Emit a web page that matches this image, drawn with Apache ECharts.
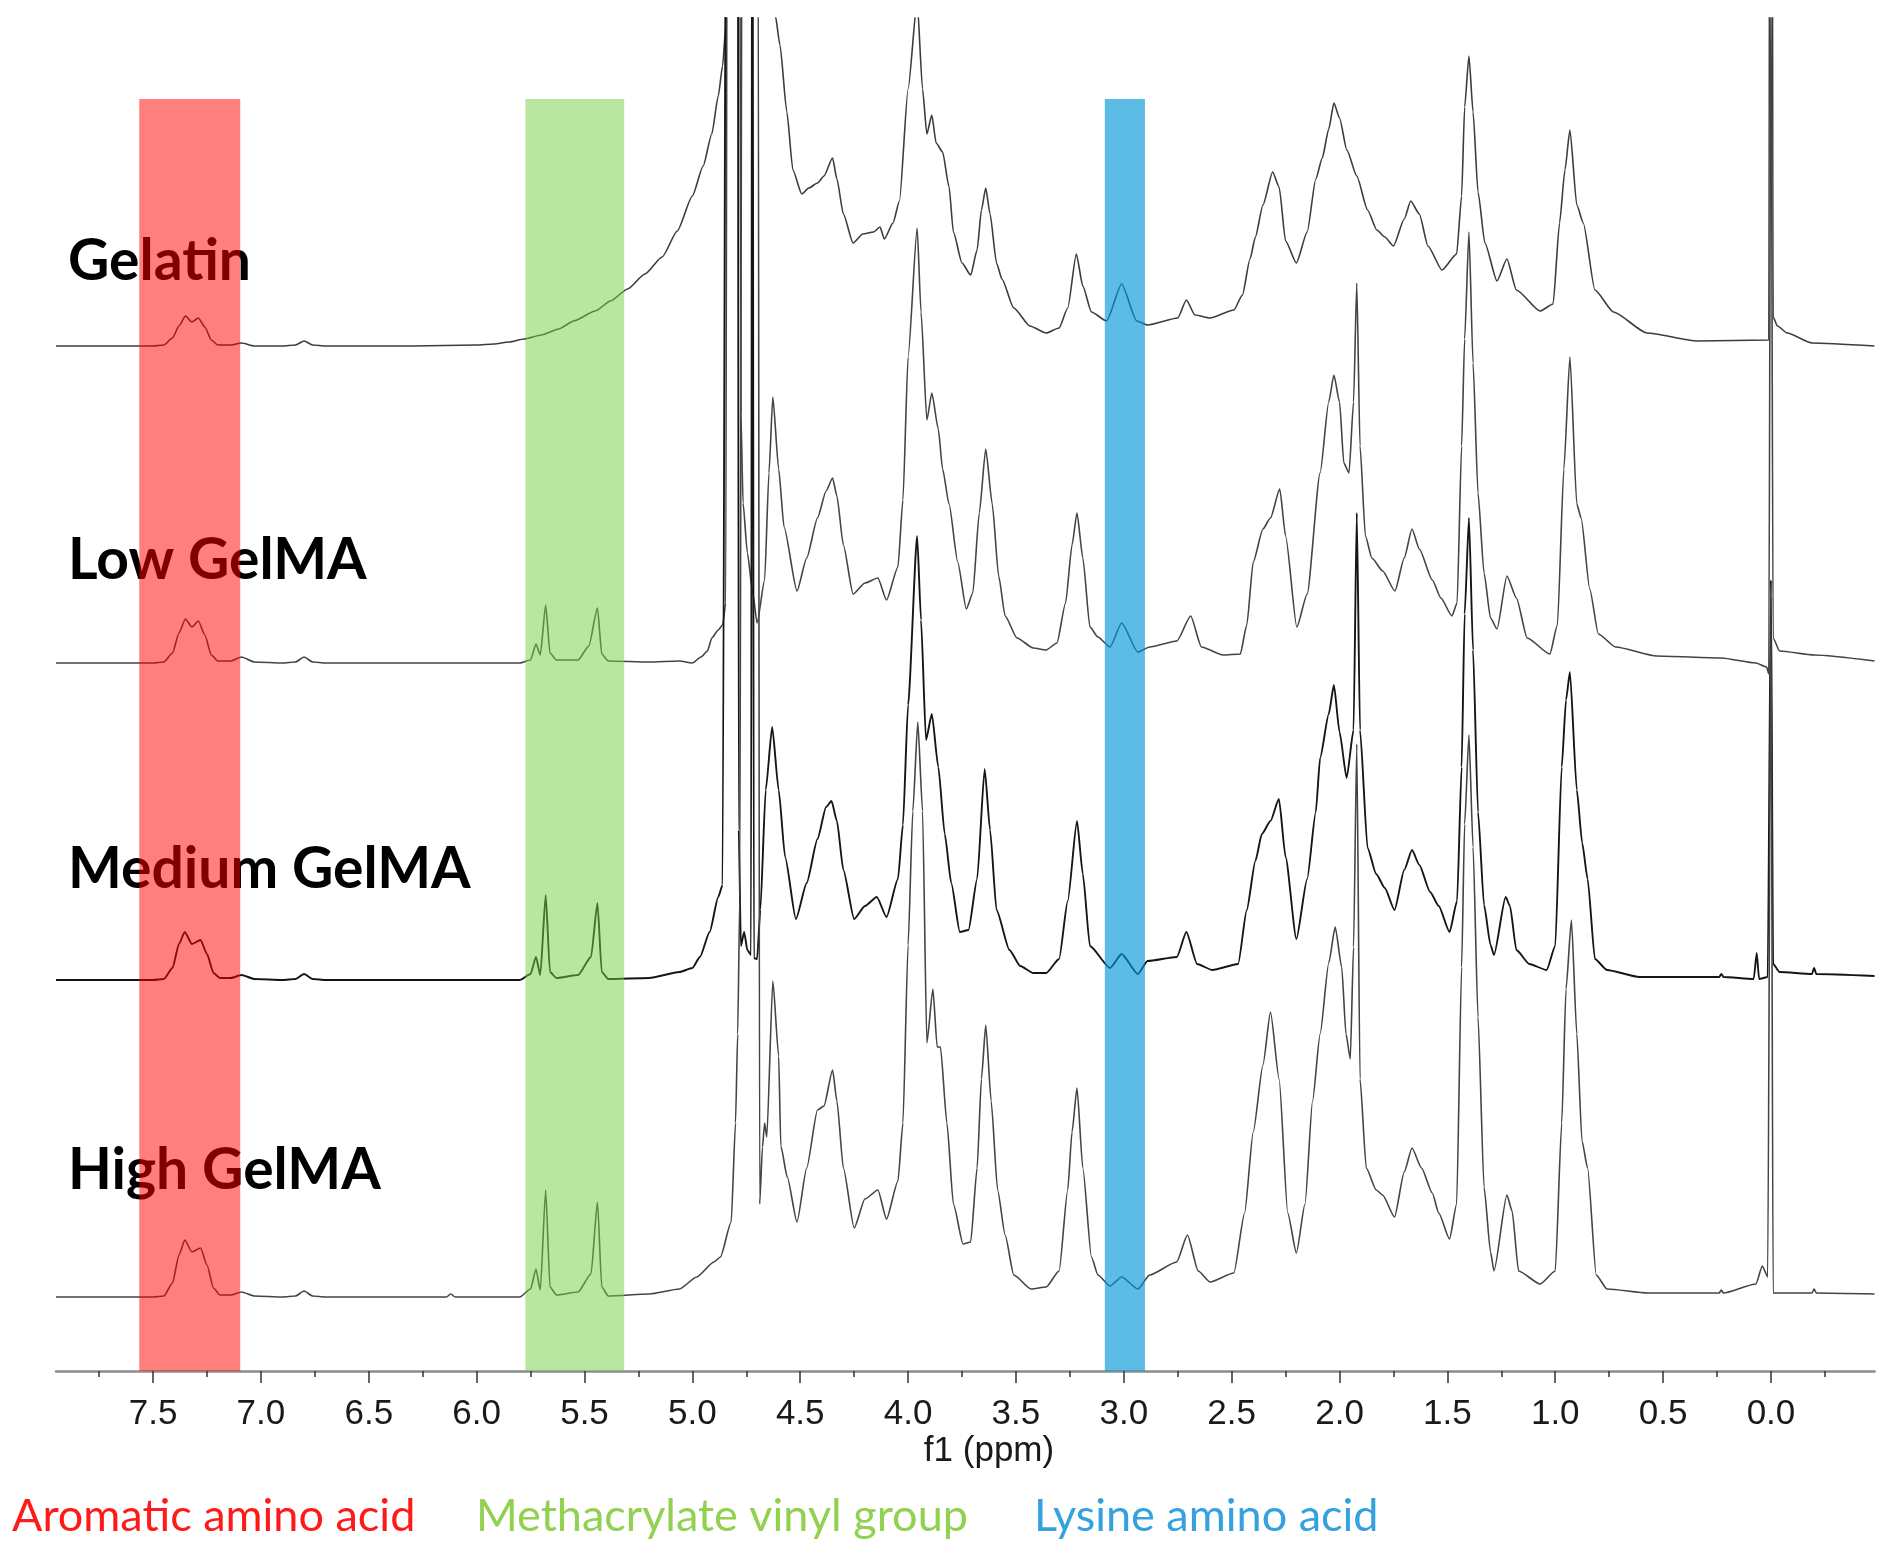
<!DOCTYPE html>
<html>
<head>
<meta charset="utf-8">
<script src="https://cdn.jsdelivr.net/npm/echarts@6/dist/echarts.min.js"></script>
<style>
html,body{margin:0;padding:0;background:#ffffff;}
#chart{width:1890px;height:1551px;}
</style>
</head>
<body>
<div id="chart"></div>
<script>
// ---- data (ppm, intensity above each trace's own baseline) ----
const sampleNames = ['Gelatin', 'Low GelMA', 'Medium GelMA', 'High GelMA'];
const traceOffsets = [951, 634, 317, 0];

const gelatin = [[7.95,0],[7.7,0],[7.5,0],[7.45,1],[7.41,8],[7.38,20],[7.35,30],[7.32,24],[7.29,28],[7.26,19],[7.23,6],[7.2,1],[7.14,1],[7.09,3],[7.03,0],[6.9,0],[6.84,1],[6.8,5],[6.76,1],[6.7,0],[6.3,0],[6.0,1],[5.92,2],[5.85,4],[5.78,7],[5.7,11],[5.62,17],[5.55,25],[5.45,35],[5.38,45],[5.3,57],[5.22,72],[5.14,89],[5.07,115],[5.0,150],[4.95,180],[4.91,212],[4.88,250],[4.86,280],[4.845,320],[4.835,1400],[4.63,1400],[4.615,330],[4.594,301],[4.562,234],[4.534,176],[4.493,152],[4.46,158],[4.42,163],[4.39,170],[4.35,188],[4.33,167],[4.3,132],[4.255,103],[4.21,112],[4.16,114],[4.13,119],[4.11,107],[4.07,123],[4.04,145],[4.0,257],[3.958,345],[3.933,257],[3.913,212],[3.89,231],[3.87,203],[3.84,194],[3.81,159],[3.79,114],[3.75,83],[3.71,71],[3.68,96],[3.66,136],[3.64,158],[3.62,132],[3.59,83],[3.565,67],[3.51,38],[3.435,20],[3.36,13],[3.3,18],[3.26,38],[3.22,92],[3.19,60],[3.15,34],[3.08,25],[3.01,62],[2.94,25],[2.89,21],[2.75,28],[2.71,46],[2.67,31],[2.6,28],[2.49,36],[2.45,51],[2.415,87],[2.39,109],[2.355,141],[2.31,174],[2.28,159],[2.25,105],[2.2,83],[2.15,114],[2.11,167],[2.08,188],[2.05,217],[2.026,243],[2.0,228],[1.966,196],[1.92,170],[1.87,136],[1.827,116],[1.79,109],[1.75,100],[1.7,127],[1.67,145],[1.63,132],[1.59,100],[1.525,76],[1.457,92],[1.434,150],[1.42,239],[1.4,290],[1.381,234],[1.358,154],[1.326,103],[1.27,65],[1.224,87],[1.18,56],[1.07,35],[1.01,42],[0.98,123],[0.955,176],[0.932,216],[0.9,141],[0.87,123],[0.816,56],[0.73,34],[0.575,13],[0.34,5],[0.01,6],[0,1400],[-0.01,29],[-0.03,20],[-0.075,13],[-0.19,3],[-0.48,0]];

const lowGelMA = [[7.95,0],[7.7,0],[7.5,0],[7.45,1],[7.41,10],[7.38,30],[7.35,44],[7.32,36],[7.29,42],[7.26,28],[7.23,8],[7.2,2],[7.14,2],[7.09,6],[7.03,1],[6.9,0],[6.84,1],[6.8,6],[6.76,1],[6.7,0],[6.2,0],[5.8,0],[5.75,3],[5.725,19],[5.705,8],[5.68,58],[5.66,10],[5.63,3],[5.53,3],[5.48,17],[5.44,55],[5.42,9],[5.39,2],[5.2,1],[5.06,2],[5.0,0],[4.96,6],[4.93,12],[4.91,25],[4.88,33],[4.86,38],[4.845,60],[4.835,1400],[4.785,1400],[4.775,250],[4.765,160],[4.745,110],[4.72,70],[4.7,40],[4.665,83],[4.645,190],[4.627,266],[4.6,194],[4.575,136],[4.515,72],[4.47,105],[4.42,145],[4.38,172],[4.35,185],[4.33,167],[4.3,118],[4.255,69],[4.2,80],[4.14,85],[4.1,63],[4.047,96],[4.024,163],[4.0,306],[3.958,435],[3.94,351],[3.913,243],[3.89,270],[3.86,234],[3.84,194],[3.81,159],[3.77,101],[3.73,54],[3.7,70],[3.67,150],[3.64,214],[3.61,159],[3.58,87],[3.55,47],[3.495,25],[3.42,15],[3.36,13],[3.31,20],[3.27,60],[3.24,118],[3.217,150],[3.19,105],[3.157,36],[3.12,26],[3.064,16],[3.01,40],[2.935,11],[2.88,16],[2.754,22],[2.69,47],[2.64,16],[2.54,8],[2.46,9],[2.43,38],[2.4,101],[2.355,134],[2.32,145],[2.277,174],[2.25,127],[2.198,36],[2.15,69],[2.09,190],[2.05,261],[2.026,288],[2.0,261],[1.98,200],[1.956,190],[1.935,261],[1.92,380],[1.905,217],[1.88,127],[1.85,105],[1.8,92],[1.743,72],[1.7,105],[1.664,134],[1.63,114],[1.57,83],[1.53,65],[1.479,47],[1.455,60],[1.434,217],[1.42,324],[1.4,431],[1.381,300],[1.358,170],[1.33,90],[1.3,45],[1.27,34],[1.224,87],[1.18,65],[1.13,25],[1.025,9],[0.99,38],[0.96,194],[0.932,306],[0.9,159],[0.88,145],[0.84,74],[0.8,29],[0.72,16],[0.53,7],[0.23,5],[0.07,0],[0.02,-4],[0.01,-11],[0,700],[-0.01,25],[-0.04,12],[-0.2,8],[-0.48,2]];

const mediumGelMA = [[7.95,0],[7.7,0],[7.5,0],[7.45,1],[7.41,12],[7.38,36],[7.353,48],[7.32,36],[7.28,40],[7.25,26],[7.22,7],[7.19,2],[7.14,2],[7.09,5],[7.03,1],[6.9,0],[6.84,1],[6.8,6],[6.76,1],[6.7,0],[6.2,0],[5.8,0],[5.75,6],[5.725,23],[5.705,5],[5.68,85],[5.66,8],[5.63,2],[5.53,5],[5.47,23],[5.44,77],[5.42,8],[5.39,1],[5.2,2],[5.06,8],[5.0,12],[4.965,23],[4.92,48],[4.88,83],[4.86,95],[4.84,1400],[4.79,1400],[4.785,150],[4.775,34],[4.76,48],[4.745,30],[4.728,25],[4.722,1400],[4.715,22],[4.7,21],[4.685,70],[4.66,190],[4.63,253],[4.6,190],[4.57,123],[4.52,61],[4.47,97],[4.42,141],[4.38,173],[4.355,179],[4.33,159],[4.3,110],[4.25,61],[4.2,74],[4.145,83],[4.1,63],[4.047,101],[4.024,155],[4.0,275],[3.958,444],[3.94,360],[3.917,240],[3.89,266],[3.86,213],[3.83,146],[3.8,97],[3.76,48],[3.72,50],[3.68,101],[3.645,211],[3.62,150],[3.59,70],[3.53,30],[3.48,14],[3.42,7],[3.36,7],[3.3,21],[3.26,79],[3.217,159],[3.19,106],[3.157,34],[3.064,12],[3.01,26],[2.935,6],[2.89,19],[2.754,23],[2.71,48],[2.66,16],[2.59,10],[2.47,16],[2.43,70],[2.39,119],[2.36,146],[2.32,159],[2.281,181],[2.25,123],[2.2,41],[2.15,101],[2.11,168],[2.09,222],[2.05,266],[2.026,295],[2.0,248],[1.967,202],[1.935,250],[1.92,467],[1.905,250],[1.87,132],[1.83,106],[1.79,92],[1.745,70],[1.7,110],[1.664,130],[1.63,115],[1.58,88],[1.54,74],[1.49,48],[1.455,79],[1.434,213],[1.42,366],[1.4,462],[1.381,330],[1.358,168],[1.33,75],[1.3,35],[1.284,25],[1.23,83],[1.21,74],[1.18,30],[1.12,16],[1.04,10],[1.0,34],[0.97,213],[0.95,280],[0.932,308],[0.9,190],[0.875,137],[0.85,101],[0.816,21],[0.76,10],[0.61,3],[0.24,3],[0.23,6],[0.22,3],[0.08,1],[0.066,27],[0.055,1],[0.015,3],[0,400],[-0.01,16],[-0.04,8],[-0.19,6],[-0.2,12],[-0.21,6],[-0.48,4]];

const highGelMA = [[7.95,0],[7.7,0],[7.5,0],[7.45,1],[7.41,14],[7.38,42],[7.353,57],[7.32,45],[7.28,49],[7.25,32],[7.22,9],[7.19,2],[7.14,2],[7.09,5],[7.03,1],[6.9,0],[6.84,1],[6.8,6],[6.76,1],[6.7,0],[6.14,0],[6.12,3],[6.1,0],[5.8,0],[5.75,8],[5.725,28],[5.705,7],[5.68,107],[5.66,10],[5.63,2],[5.53,5],[5.47,23],[5.44,95],[5.42,10],[5.39,1],[5.2,3],[5.06,8],[4.98,20],[4.9,35],[4.87,40],[4.82,75],[4.8,174],[4.79,263],[4.78,400],[4.77,1400],[4.695,1400],[4.688,93],[4.675,150],[4.665,174],[4.655,160],[4.627,316],[4.6,241],[4.59,151],[4.56,120],[4.515,75],[4.47,129],[4.42,187],[4.39,191],[4.35,227],[4.33,196],[4.3,129],[4.25,69],[4.2,98],[4.14,107],[4.1,78],[4.047,116],[4.024,174],[4.0,352],[3.978,486],[3.955,575],[3.933,486],[3.913,254],[3.885,308],[3.865,250],[3.85,250],[3.82,174],[3.79,93],[3.745,53],[3.71,55],[3.68,129],[3.66,218],[3.64,272],[3.615,196],[3.585,107],[3.55,62],[3.51,22],[3.43,8],[3.36,10],[3.3,26],[3.26,107],[3.24,165],[3.217,209],[3.19,129],[3.15,40],[3.12,22],[3.064,11],[3.01,20],[2.935,8],[2.88,22],[2.755,35],[2.705,62],[2.655,26],[2.6,15],[2.49,24],[2.44,84],[2.4,165],[2.355,232],[2.32,285],[2.28,218],[2.24,84],[2.2,44],[2.16,93],[2.125,196],[2.09,263],[2.05,334],[2.02,370],[1.99,330],[1.97,263],[1.95,238],[1.935,350],[1.92,553],[1.905,218],[1.876,129],[1.83,107],[1.8,102],[1.745,80],[1.7,125],[1.664,149],[1.62,129],[1.57,104],[1.54,84],[1.49,58],[1.457,93],[1.434,330],[1.42,473],[1.4,562],[1.381,450],[1.358,280],[1.33,110],[1.3,45],[1.284,26],[1.224,102],[1.2,86],[1.17,26],[1.07,13],[1.0,26],[0.97,174],[0.95,308],[0.925,377],[0.9,263],[0.876,156],[0.85,129],[0.81,22],[0.76,8],[0.57,4],[0.24,4],[0.23,7],[0.22,4],[0.07,13],[0.04,31],[0.015,20],[0,700],[-0.01,4],[-0.19,4],[-0.2,8],[-0.21,4],[-0.48,3]];

const traces = [gelatin, lowGelMA, mediumGelMA, highGelMA];

const majorTickValues = [0,0.5,1,1.5,2,2.5,3,3.5,4,4.5,5,5.5,6,6.5,7,7.5];
const minorTickValues = [-0.25,0.25,0.75,1.25,1.75,2.25,2.75,3.25,3.75,4.25,4.75,5.25,5.75,6.25,6.75,7.25,7.75];

const bandNames = ['Aromatic amino acid', 'Methacrylate vinyl group', 'Lysine amino acid'];
const bandRanges = [[7.564, 7.096], [5.774, 5.316], [3.088, 2.902]];
const axisTitle = 'f1 (ppm)';

// ---- styles / layout ----
const X_MIN = -0.48, X_MAX = 7.95, Y_MIN = -74, Y_MAX = 1279, BAND_TOP = 1198;
const bandFill = ['rgba(255,0,0,0.5)', 'rgba(115,205,65,0.5)', 'rgba(0,150,214,0.64)'];
const bandTextColor = ['#ff1a1a', '#92d050', '#34a2de'];
const bandTextX = [12, 476, 1034];
const sampleLabelY = [262, 561, 870, 1171];
const traceColor = ['#3c3c3c', '#444444', '#151515', '#444444'];
const traceWidth = [1.6, 1.6, 1.9, 1.6];

const chart = echarts.init(document.getElementById('chart'), null, {renderer: 'canvas'});

const series = traces.map((tr, i) => ({
  type: 'line',
  name: sampleNames[i],
  data: tr.map(p => [p[0], p[1] + traceOffsets[i]]),
  showSymbol: false,
  symbol: 'none',
  smooth: 0.2,
  smoothMonotone: 'x',
  clip: true,
  silent: true,
  z: 2,
  lineStyle: {color: traceColor[i], width: traceWidth[i]}
}));

series.push({
  type: 'line',
  name: 'bands',
  data: [],
  silent: true,
  z: 10,
  markArea: {
    silent: true,
    z: 10,
    label: {show: false},
    data: bandRanges.map((r, i) => [
      {xAxis: r[0], yAxis: BAND_TOP, itemStyle: {color: bandFill[i]}},
      {xAxis: r[1], yAxis: Y_MIN}
    ])
  }
});

const graphics = [];
sampleNames.forEach((t, i) => {
  graphics.push({
    type: 'text', x: 68, y: sampleLabelY[i], z: 1, silent: true,
    style: {text: t, font: 'bold 57px Lato', fill: '#000000', textAlign: 'left', textVerticalAlign: 'middle'}
  });
});
bandNames.forEach((t, i) => {
  graphics.push({
    type: 'text', x: bandTextX[i], y: 1516, z: 1, silent: true,
    style: {text: t, font: '45px Lato', fill: bandTextColor[i], textAlign: 'left', textVerticalAlign: 'middle'}
  });
});
graphics.push({
  type: 'text', x: 989, y: 1451, z: 1, silent: true,
  style: {text: axisTitle, font: '35px "Liberation Sans"', fill: '#1a1a1a', textAlign: 'center', textVerticalAlign: 'middle'}
});

chart.setOption({
  animation: false,
  backgroundColor: '#ffffff',
  grid: {left: 56, right: 15.5, top: 18, bottom: 180, containLabel: false},
  xAxis: [
    {
      type: 'value', inverse: true, min: X_MIN, max: X_MAX, position: 'bottom',
      axisLine: {show: true, onZero: false, lineStyle: {color: '#8c8c8c', width: 2.5}},
      axisTick: {show: true, customValues: majorTickValues, length: 12, lineStyle: {color: '#333333', width: 1.5}},
      axisLabel: {show: true, customValues: majorTickValues, formatter: v => Number(v).toFixed(1),
        fontSize: 35, fontFamily: 'Liberation Sans', color: '#1a1a1a', margin: 26},
      splitLine: {show: false}
    },
    {
      type: 'value', inverse: true, min: X_MIN, max: X_MAX, position: 'bottom',
      axisLine: {show: false, onZero: false},
      axisTick: {show: true, customValues: minorTickValues, length: 6, lineStyle: {color: '#333333', width: 1.5}},
      axisLabel: {show: false},
      splitLine: {show: false}
    }
  ],
  yAxis: {type: 'value', min: Y_MIN, max: Y_MAX, show: false},
  series: series,
  graphic: graphics
});
</script>
</body>
</html>
